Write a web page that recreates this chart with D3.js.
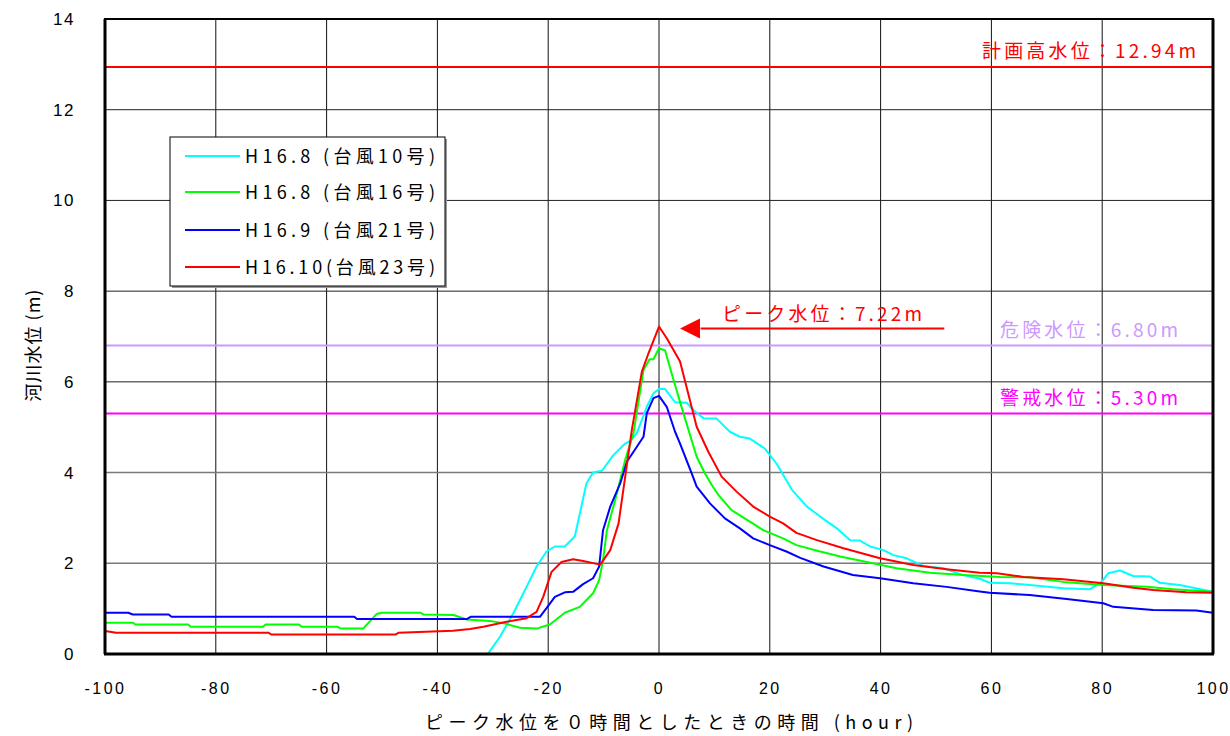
<!DOCTYPE html>
<html lang="ja">
<head>
<meta charset="UTF-8">
<title>ピーク水位比較</title>
<script src="https://d3js.org/d3.v7.min.js"></script>
<style>
  body {margin: 0; background: #fff;}
  svg {display: block;}
</style>
</head>
<body>
<svg id="chart" width="1230" height="736"></svg>
<script>
// ---- data ----
let xTicks = [-100, -80, -60, -40, -20, 0, 20, 40, 60, 80, 100]
let yTicks = [0, 2, 4, 6, 8, 10, 12, 14]

let names = ["H16.8 (台風10号)", "H16.8 (台風16号)", "H16.9 (台風21号)", "H16.10(台風23号)"]
let colors = ["#00ffff", "#00ff00", "#0000ff", "#ff0000"]

// H16.8 台風10号
let t10Hours = [-31, -30.8, -28.7, -26.3, -23.9, -22.1, -20.3, -18.8, -17, -15.2, -13.1, -11.9, -10.3, -8.2, -6.1, -5.2, -4, -2.2, -1, 0, 1.1, 2.9, 5, 6.2, 8, 10.4, 12.8, 14.6, 16.4, 19.1, 21.2, 24, 26.7, 29.1, 32.1, 34.5, 36.3, 38.1, 40.5, 42.3, 44.7, 47.7, 51.3, 54.9, 57.9, 59.7, 63.4, 66.9, 73, 77.8, 79.9, 81.1, 83.2, 85.6, 88.6, 90.4, 94, 100]
let t10Values = [0, 0.02, 0.38, 0.90, 1.48, 1.93, 2.26, 2.37, 2.37, 2.59, 3.76, 4.00, 4.04, 4.39, 4.64, 4.70, 4.87, 5.45, 5.75, 5.84, 5.84, 5.55, 5.54, 5.38, 5.20, 5.19, 4.90, 4.79, 4.75, 4.53, 4.20, 3.62, 3.25, 3.03, 2.77, 2.51, 2.50, 2.37, 2.29, 2.18, 2.11, 1.94, 1.89, 1.74, 1.66, 1.57, 1.56, 1.52, 1.45, 1.43, 1.59, 1.78, 1.84, 1.72, 1.71, 1.57, 1.52, 1.37]

// H16.8 台風16号
let t16Hours = [-100, -95, -94.5, -85, -84.5, -71.5, -71, -65, -64.5, -58, -57.5, -53.4, -51, -50, -43, -42.5, -37.1, -34.7, -30.5, -28.1, -25.1, -22.1, -19.7, -17, -14.3, -11.9, -10.8, -10.1, -9.4, -7.9, -6.1, -4.6, -2.8, -1.7, -1, 0, 1.1, 2.6, 4.4, 6.8, 8.3, 9.5, 10.7, 13.1, 16.4, 18.8, 22.4, 24.8, 29.1, 32.7, 37.5, 42.9, 48.9, 54.9, 61.6, 66.9, 73, 80.2, 88, 92.8, 100]
let t16Values = [0.69, 0.69, 0.65, 0.65, 0.60, 0.60, 0.65, 0.65, 0.60, 0.60, 0.56, 0.56, 0.88, 0.91, 0.91, 0.87, 0.86, 0.76, 0.73, 0.68, 0.58, 0.56, 0.65, 0.91, 1.04, 1.34, 1.63, 2.07, 2.73, 3.40, 4.28, 4.87, 6.26, 6.50, 6.50, 6.74, 6.69, 6.05, 5.31, 4.35, 3.98, 3.73, 3.51, 3.17, 2.92, 2.73, 2.55, 2.40, 2.26, 2.15, 2.03, 1.89, 1.79, 1.74, 1.70, 1.69, 1.59, 1.52, 1.48, 1.43, 1.37]

// H16.9 台風21号
let t21Hours = [-100, -95.8, -95, -88.5, -88, -55, -54.5, -34.7, -34, -21.5, -20.3, -18.8, -17, -15.5, -13.7, -11.9, -10.8, -10.1, -8.8, -7.0, -5.8, -4.0, -2.8, -2.2, -1.0, 0, 1.4, 2.9, 3.8, 5.9, 6.8, 9.2, 11.9, 14.6, 17, 20, 23, 25.5, 29.7, 35, 39.9, 45.9, 51.9, 57.9, 59.7, 66.9, 73.6, 80.2, 82, 89.2, 97, 100]
let t21Values = [0.91, 0.91, 0.87, 0.87, 0.82, 0.82, 0.77, 0.77, 0.82, 0.82, 1.01, 1.26, 1.36, 1.37, 1.54, 1.67, 1.93, 2.73, 3.25, 3.76, 4.24, 4.57, 4.79, 5.31, 5.64, 5.69, 5.45, 4.90, 4.64, 3.98, 3.69, 3.32, 2.99, 2.77, 2.55, 2.40, 2.26, 2.12, 1.93, 1.74, 1.67, 1.56, 1.48, 1.38, 1.35, 1.30, 1.21, 1.12, 1.04, 0.97, 0.96, 0.91]

// H16.10 台風23号
let t23Hours = [-100, -98, -70.5, -70, -47.5, -47, -37.2, -34.1, -31.7, -27.5, -23.9, -22.1, -20.9, -19.4, -17.6, -15.5, -13.7, -10.6, -8.8, -7.3, -6.1, -4.9, -3.1, -1.9, 0, 1.4, 3.8, 6.8, 8.9, 11.3, 14, 17, 20, 22.4, 24.8, 28.5, 33.3, 39.9, 45.9, 51.9, 57.9, 61, 65.8, 73, 80.2, 85.6, 89.2, 95.2, 100]
let t23Values = [0.51, 0.47, 0.47, 0.43, 0.43, 0.47, 0.51, 0.55, 0.60, 0.71, 0.79, 0.93, 1.26, 1.81, 2.03, 2.09, 2.05, 1.97, 2.29, 2.88, 3.91, 4.94, 6.22, 6.63, 7.22, 6.96, 6.45, 5.01, 4.46, 3.91, 3.58, 3.25, 3.03, 2.88, 2.67, 2.51, 2.33, 2.11, 1.96, 1.87, 1.79, 1.78, 1.70, 1.65, 1.56, 1.46, 1.41, 1.36, 1.35]

// reference water levels
let levelNames = ["計画高水位：12.94m", "危険水位：6.80m", "警戒水位：5.30m"]
let levelValues = [12.94, 6.80, 5.30]
let levelColors = ["#ff0000", "#cc99ff", "#ff00ff"]

let peakValue = 7.22
let peakLabel = "ピーク水位：7.22m"

// ---- layout ----
let svg = d3.select("#chart")
let pL = 105, pT = 19, pR = 1213, pB = 654

let x = d3.scaleLinear().domain([-100, 100]).range([pL, pR])
let y = d3.scaleLinear().domain([0, 14]).range([pB, pT])

let jp = "'Noto Sans CJK JP', 'Noto Sans', sans-serif"
let num = "'Liberation Sans', Arial, sans-serif"

svg.append("clipPath").attr("id", "plotclip")
    .append("rect")
    .attr("x", pL).attr("y", pT)
    .attr("width", pR - pL).attr("height", pB - pT)

// grid
svg.append("g")
    .selectAll("line")
    .data(xTicks.slice(1, -1))
    .join("line")
    .attr("x1", d => x(d)).attr("x2", d => x(d))
    .attr("y1", pT).attr("y2", pB)
    .attr("stroke", "#111").attr("stroke-width", 1)

svg.append("g")
    .selectAll("line")
    .data(yTicks.slice(1, -1))
    .join("line")
    .attr("x1", pL).attr("x2", pR)
    .attr("y1", d => y(d)).attr("y2", d => y(d))
    .attr("stroke", d => (d == 2 || d == 4) ? "#7a7a7a" : "#222")
    .attr("stroke-width", d => (d == 2 || d == 4) ? 1.6 : 1)

// axes (labels only, frame drawn separately)
let xAxis = d3.axisBottom(x).tickValues(xTicks).tickFormat(d => String(d))
    .tickSize(0).tickPadding(29)
let gx = svg.append("g").attr("transform", `translate(0,${pB})`).call(xAxis)
gx.select(".domain").remove()
gx.selectAll("text")
    .attr("font-family", num).attr("font-size", 16)
    .attr("letter-spacing", 2.5).attr("fill", "#000")

let yAxis = d3.axisLeft(y).tickValues(yTicks).tickSize(0).tickPadding(30)
let gy = svg.append("g").attr("transform", `translate(${pL},0)`).call(yAxis)
gy.select(".domain").remove()
gy.selectAll("text")
    .attr("font-family", num).attr("font-size", 17)
    .attr("letter-spacing", 1.5).attr("fill", "#000")

// reference lines
svg.append("g")
    .selectAll("line")
    .data(levelValues)
    .join("line")
    .attr("x1", pL).attr("x2", pR)
    .attr("y1", d => y(d)).attr("y2", d => y(d))
    .attr("stroke", (d, i) => levelColors[i]).attr("stroke-width", 2)

// series
let series = [
    {hours: t10Hours, values: t10Values},
    {hours: t16Hours, values: t16Values},
    {hours: t21Hours, values: t21Values},
    {hours: t23Hours, values: t23Values}
]
let line = d3.line().x(d => x(d[0])).y(d => y(d[1]))

svg.append("g").attr("clip-path", "url(#plotclip)")
    .selectAll("path")
    .data(series)
    .join("path")
    .attr("d", s => line(d3.zip(s.hours, s.values)))
    .attr("fill", "none")
    .attr("stroke", (s, i) => colors[i])
    .attr("stroke-width", 2)
    .attr("stroke-linejoin", "round")

// frame
svg.append("rect")
    .attr("x", pL).attr("y", pT)
    .attr("width", pR - pL).attr("height", pB - pT)
    .attr("fill", "none").attr("stroke", "#000").attr("stroke-width", 2)
svg.append("line")
    .attr("x1", pL - 1).attr("x2", pR + 1)
    .attr("y1", pB).attr("y2", pB)
    .attr("stroke", "#000").attr("stroke-width", 3)
svg.append("line")
    .attr("x1", pL).attr("x2", pL)
    .attr("y1", pT).attr("y2", pB)
    .attr("stroke", "#000").attr("stroke-width", 3)
svg.append("line")
    .attr("x1", pR).attr("x2", pR)
    .attr("y1", pT).attr("y2", pB)
    .attr("stroke", "#000").attr("stroke-width", 3)

// level labels
let levelLabelX = [982, 1000, 1000]
let levelLabelW = [214, 178, 178]
svg.append("g")
    .selectAll("text")
    .data(levelNames)
    .join("text")
    .attr("x", (d, i) => levelLabelX[i])
    .attr("y", (d, i) => y(levelValues[i]) - 9)
    .attr("textLength", (d, i) => levelLabelW[i])
    .attr("lengthAdjust", "spacing")
    .attr("font-family", jp).attr("font-size", 19)
    .attr("fill", (d, i) => levelColors[i])
    .text(d => d)

// peak annotation
let ay = y(peakValue) + 2
svg.append("line")
    .attr("x1", x(7.5)).attr("x2", x(51.5))
    .attr("y1", ay).attr("y2", ay)
    .attr("stroke", "#ff0000").attr("stroke-width", 2)
svg.append("path")
    .attr("d", `M${x(3.8)},${ay} L${x(7.4)},${ay - 10} L${x(7.4)},${ay + 10} Z`)
    .attr("fill", "#ff0000")
svg.append("text")
    .attr("x", 722).attr("y", ay - 8)
    .attr("textLength", 200).attr("lengthAdjust", "spacing")
    .attr("font-family", jp).attr("font-size", 19)
    .attr("fill", "#ff0000")
    .text(peakLabel)

// legend
let lg = svg.append("g").attr("transform", "translate(170,137)")
lg.append("rect")
    .attr("x", 2).attr("y", 2).attr("width", 275).attr("height", 149)
    .attr("fill", "#999")
lg.append("rect")
    .attr("width", 275).attr("height", 149)
    .attr("fill", "#fff").attr("stroke", "#000").attr("stroke-width", 1)
let rowY = [19, 55, 93, 130]
lg.selectAll("line.item")
    .data(names)
    .join("line")
    .attr("class", "item")
    .attr("x1", 15).attr("x2", 70)
    .attr("y1", (d, i) => rowY[i]).attr("y2", (d, i) => rowY[i])
    .attr("stroke", (d, i) => colors[i]).attr("stroke-width", 2)
lg.selectAll("text")
    .data(names)
    .join("text")
    .attr("x", 75)
    .attr("y", (d, i) => rowY[i] + 7)
    .attr("textLength", 190).attr("lengthAdjust", "spacing")
    .attr("font-family", jp).attr("font-size", 18)
    .attr("fill", "#000")
    .text(d => d)

// axis titles
svg.append("text")
    .attr("x", 669).attr("y", 729)
    .attr("text-anchor", "middle")
    .attr("textLength", 488).attr("lengthAdjust", "spacing")
    .attr("font-family", jp).attr("font-size", 18)
    .text("ピーク水位を０時間としたときの時間 (hour)")

svg.append("text")
    .attr("transform", "translate(40,345) rotate(-90)")
    .attr("text-anchor", "middle")
    .attr("font-family", jp).attr("font-size", 18)
    .attr("letter-spacing", 1)
    .text("河川水位 (m)")
</script>
</body>
</html>
